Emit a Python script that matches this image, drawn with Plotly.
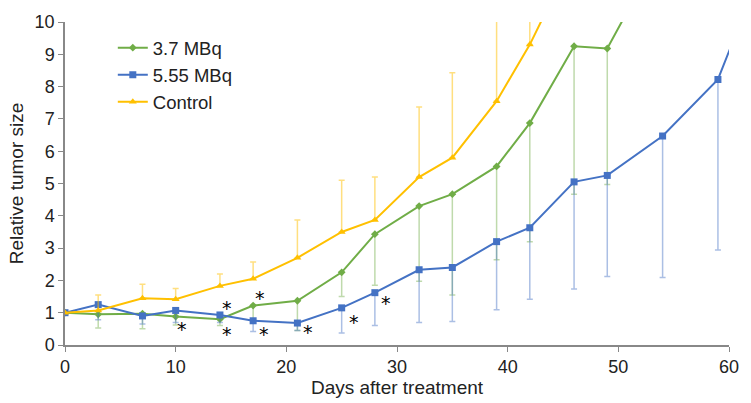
import plotly.graph_objects as go

days_ctrl = [0, 3, 7, 10, 14, 17, 21, 25, 28, 32, 35, 39, 42, 46]
ctrl = [1.0, 1.07, 1.45, 1.42, 1.83, 2.05, 2.7, 3.5, 3.87, 5.2, 5.8, 7.55, 9.3, 12.1]
ctrl_up = [0.0, 0.48, 0.43, 0.33, 0.37, 0.52, 1.17, 1.6, 1.33, 2.17, 2.63, 3.5, 3.0, 0.0]

days_g = [0, 3, 7, 10, 14, 17, 21, 25, 28, 32, 35, 39, 42, 46, 49, 53]
green = [1.0, 0.95, 0.97, 0.88, 0.8, 1.22, 1.37, 2.25, 3.43, 4.3, 4.67, 5.53, 6.87, 9.25, 9.18, 11.7]
green_lo = [0.0, 0.42, 0.47, 0.26, 0.2, 0.47, 0.92, 0.75, 1.58, 2.33, 3.12, 2.89, 3.67, 4.58, 4.21, 0.0]

days_b = [0, 3, 7, 10, 14, 17, 21, 25, 28, 32, 35, 39, 42, 46, 49, 54, 59, 63]
blue = [1.0, 1.25, 0.9, 1.07, 0.93, 0.75, 0.68, 1.15, 1.62, 2.33, 2.4, 3.2, 3.63, 5.05, 5.25, 6.47, 8.22, 11.7]
blue_lo = [0.0, 0.47, 0.25, 0.37, 0.23, 0.33, 0.23, 0.78, 1.02, 1.63, 1.67, 2.11, 2.21, 3.32, 3.13, 4.38, 5.28, 0.0]

star_x = [10.6, 14.6, 14.6, 17.6, 18.0, 22.0, 26.1, 29.0]
star_y = [0.5, 1.15, 0.35, 1.45, 0.35, 0.4, 0.7, 1.3]

x_ticks = [0, 10, 20, 30, 40, 50, 60]
y_ticks = list(range(0, 11))

fig = go.Figure()

fig.add_trace(go.Scatter(
    x=days_g, y=green, name="3.7 MBq", mode="lines+markers",
    line=dict(color="#70AD47", width=2),
    marker=dict(symbol="diamond", size=6, color="#70AD47"),
    error_y=dict(type="data", symmetric=False, array=[0]*len(green), arrayminus=green_lo,
                 color="rgba(112,173,71,0.45)", thickness=1.5, width=3),
))
fig.add_trace(go.Scatter(
    x=days_b, y=blue, name="5.55 MBq", mode="lines+markers",
    line=dict(color="#4472C4", width=2),
    marker=dict(symbol="square", size=7, color="#4472C4"),
    error_y=dict(type="data", symmetric=False, array=[0]*len(blue), arrayminus=blue_lo,
                 color="rgba(68,114,196,0.45)", thickness=1.5, width=3),
))
fig.add_trace(go.Scatter(
    x=days_ctrl, y=ctrl, name="Control", mode="lines+markers",
    line=dict(color="#FFC000", width=2),
    marker=dict(symbol="triangle-up", size=7, color="#FFC000"),
    error_y=dict(type="data", symmetric=False, array=ctrl_up, arrayminus=[0]*len(ctrl),
                 color="rgba(255,192,0,0.5)", thickness=1.5, width=3),
))

for sx, sy in zip(star_x, star_y):
    fig.add_annotation(x=sx, y=sy, text="*", showarrow=False,
                       font=dict(size=19, color="black", family="DejaVu Sans"),
                       xanchor="center", yanchor="middle")

fig.update_layout(
    width=751, height=403,
    margin=dict(l=65, r=20, t=16, b=57),
    paper_bgcolor="white", plot_bgcolor="white",
    font=dict(family="Liberation Sans, Arial, sans-serif", size=18, color="#222"),
    showlegend=True,
    legend=dict(x=0.072, y=0.978, xanchor="left", yanchor="top",
                bgcolor="rgba(0,0,0,0)", font=dict(size=18.5, color="#222"),
                itemwidth=30, tracegroupgap=0),
    xaxis=dict(range=[0, 60], tickvals=x_ticks, showgrid=False, zeroline=False,
               showline=True, linecolor="#888", linewidth=1.5,
               ticks="outside", tickcolor="#888", ticklen=5,
               tickfont=dict(size=18),
               title=dict(text="Days after treatment", font=dict(size=19), standoff=0)),
    yaxis=dict(range=[0, 10], tickvals=y_ticks, showgrid=False, zeroline=False,
               showline=True, linecolor="#888", linewidth=1.5,
               ticks="outside", tickcolor="#888", ticklen=5,
               tickfont=dict(size=18),
               title=dict(text="Relative tumor size", font=dict(size=19), standoff=6)),
)

fig.write_html("out.html")
